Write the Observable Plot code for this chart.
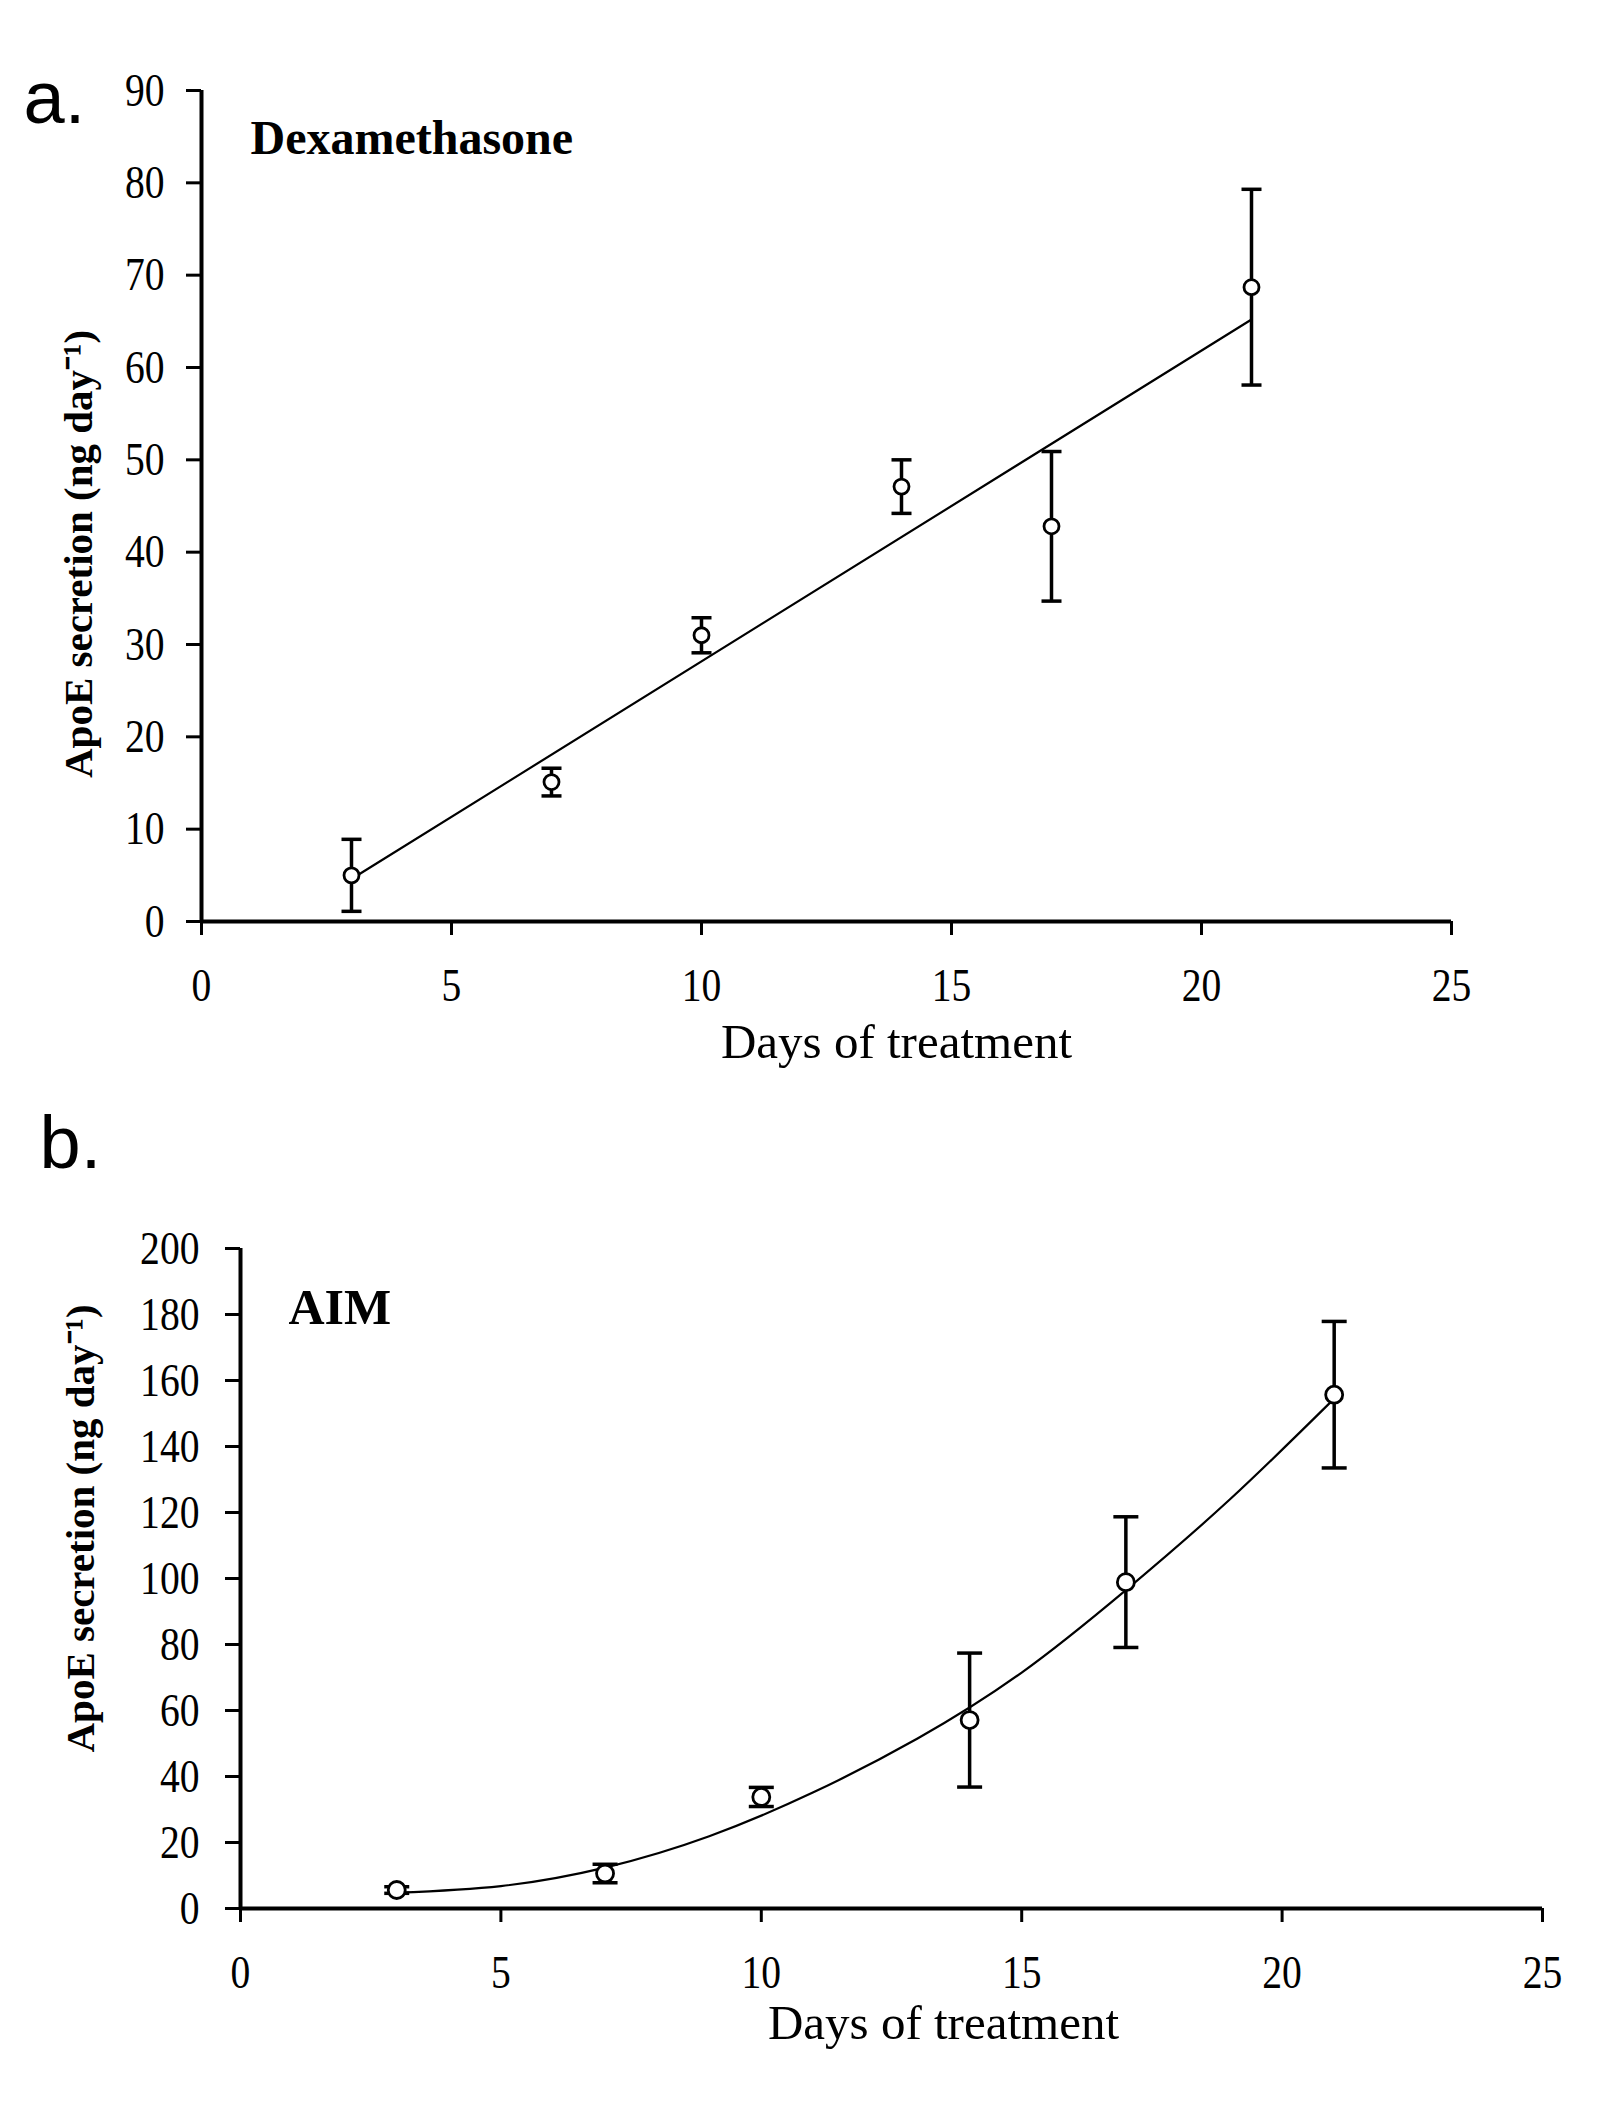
<!DOCTYPE html>
<html>
<head>
<meta charset="utf-8">
<script src="https://cdn.jsdelivr.net/npm/d3@7"></script>
<script src="https://cdn.jsdelivr.net/npm/@observablehq/plot@0.6"></script>
<style>
  html, body { margin: 0; padding: 0; background: #fff; }
  #wrap { width: 1600px; height: 2117px; position: relative; overflow: hidden; }
  #wrap svg { display: block; }
</style>
</head>
<body>
<div id="wrap"></div>
<script>
// ---------- data ----------
const days = [3, 7, 10, 14, 17, 21];

const dexMean = [5.0, 15.1, 31.0, 47.1, 42.8, 68.7];
const dexErr  = [3.9, 1.5, 1.9, 2.9, 8.1, 10.6];
const dexTrendX = [3, 21];
const dexTrendY = [4.6, 65.2];

const aimMean = [5.6, 10.6, 33.8, 57.1, 98.9, 155.7];
const aimErr  = [1.0, 2.8, 2.9, 20.3, 19.8, 22.2];
const aimTrendX = [3, 5, 7, 9, 11, 13, 15, 17, 19, 21];
const aimTrendY = [4.8, 6.8, 12.4, 21.9, 35.2, 51.5, 71.5, 96.5, 124, 154.5];

const xTicks = [0, 5, 10, 15, 20, 25];
const yTicksA = [0, 10, 20, 30, 40, 50, 60, 70, 80, 90];
const yTicksB = [0, 20, 40, 60, 80, 100, 120, 140, 160, 180, 200];

const yLabel = "ApoE secretion (ng day\u207B\u00B9)";
const xLabel = "Days of treatment";

// ---------- helpers ----------
const rows = (means, errs) => days.map((d, i) => ({x: d, y: means[i], lo: means[i] - errs[i], hi: means[i] + errs[i]}));
const trend = (xs, ys) => xs.map((x, i) => ({x, y: ys[i]}));

const capSymbol = {
  draw(ctx, size) {
    const r = Math.sqrt(size / Math.PI);
    ctx.moveTo(-r, 0);
    ctx.lineTo(r, 0);
  }
};

const serif = "'Liberation Serif', 'Times New Roman', serif";
const sans = "'Liberation Sans', Arial, sans-serif";

function panel(opts) {
  const data = rows(opts.means, opts.errs);
  const tr = trend(opts.trendX, opts.trendY);
  const svg = Plot.plot({
    width: 1600,
    height: opts.height,
    marginLeft: opts.ml,
    marginRight: opts.mr,
    marginTop: opts.mt,
    marginBottom: opts.mb,
    style: {fontFamily: serif, fontSize: "44px", color: "black", background: "white", overflow: "visible"},
    x: {domain: [0, 25], ticks: xTicks, label: null},
    y: {domain: opts.yDomain, ticks: opts.yTicks, label: null},
    marks: [
      Plot.axisX({ticks: xTicks, tickSize: 14, tickPadding: 32, strokeWidth: 3, label: null, fontSize: 44}),
      Plot.axisY({ticks: opts.yTicks, tickSize: 15, tickPadding: opts.yPad, strokeWidth: 3, label: null, fontSize: 44}),
      Plot.ruleY([0], {stroke: "black", strokeWidth: 4}),
      Plot.ruleX([0], {stroke: "black", strokeWidth: 4}),
      Plot.line(tr, {x: "x", y: "y", stroke: "black", strokeWidth: 2.2, curve: opts.curve}),
      Plot.ruleX(data, {x: "x", y1: "lo", y2: "hi", stroke: "black", strokeWidth: 3.5}),
      Plot.dot(data, {x: "x", y: "hi", symbol: capSymbol, r: opts.cap, fill: "none", stroke: "black", strokeWidth: 3.5}),
      Plot.dot(data, {x: "x", y: "lo", symbol: capSymbol, r: opts.cap, fill: "none", stroke: "black", strokeWidth: 3.5}),
      Plot.dot(data, {x: "x", y: "y", r: opts.dotR, fill: "white", stroke: "black", strokeWidth: 2.8}),
      Plot.text([opts.title], {frameAnchor: "top-left", text: d => d, dx: opts.titleDx, dy: opts.titleDy,
        textAnchor: "start", lineAnchor: "bottom", fontFamily: serif, fontWeight: "bold", fontSize: opts.titleSize}),
      Plot.text([opts.letter], {frameAnchor: "top-left", text: d => d, dx: opts.letterDx, dy: opts.letterDy,
        textAnchor: "start", lineAnchor: "bottom", fontFamily: sans, fontSize: 74}),
      Plot.text([yLabel], {frameAnchor: "left", text: d => d, dx: opts.ylDx, dy: opts.ylDy, rotate: -90,
        textAnchor: "middle", lineAnchor: "middle", fontFamily: serif, fontWeight: "bold", fontSize: 41}),
      Plot.text([xLabel], {frameAnchor: "bottom", text: d => d, dx: opts.xlDx, dy: opts.xlDy,
        textAnchor: "middle", lineAnchor: "middle", fontFamily: serif, fontSize: 49})
    ]
  });
  // slightly condensed, taller tick numerals as in the reference
  d3.select(svg).selectAll("g[aria-label$='tick label'] text").each(function () {
    const t = this.getAttribute("transform") || "";
    this.setAttribute("transform", t + " scale(0.9,1.07)");
  });
  return svg;
}

const wrap = document.getElementById("wrap");

wrap.appendChild(panel({
  height: 1090, ml: 201, mr: 149, mt: 90, mb: 169,
  means: dexMean, errs: dexErr, trendX: dexTrendX, trendY: dexTrendY, curve: "linear",
  yDomain: [0, 90], yTicks: yTicksA, yPad: 22,
  cap: 10, dotR: 7.5,
  title: "Dexamethasone", titleDx: 49, titleDy: 63, titleSize: 48,
  letter: "a.", letterDx: -178, letterDy: 32,
  ylDx: -123, ylDy: 48,
  xlDx: 70, xlDy: 121
}));

wrap.appendChild(panel({
  height: 1027, ml: 240, mr: 58, mt: 158, mb: 209,
  means: aimMean, errs: aimErr, trendX: aimTrendX, trendY: aimTrendY, curve: "natural",
  yDomain: [0, 200], yTicks: yTicksB, yPad: 26,
  cap: 12.5, dotR: 8.5,
  title: "AIM", titleDx: 48, titleDy: 75, titleSize: 50,
  letter: "b.", letterDx: -201, letterDy: -81,
  ylDx: -160, ylDy: -50,
  xlDx: 52, xlDy: 115
}));
</script>
</body>
</html>
